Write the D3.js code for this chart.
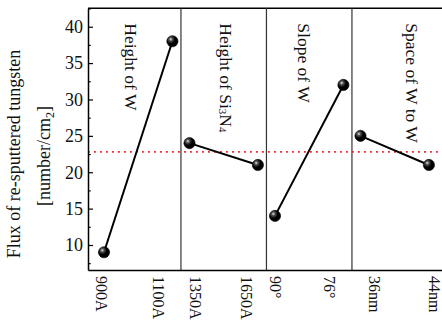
<!DOCTYPE html>
<html>
<head>
<meta charset="utf-8">
<script src="https://cdn.jsdelivr.net/npm/d3@7"></script>
<style>
  html, body { margin: 0; padding: 0; background: #fff; }
  svg { display: block; }
</style>
</head>
<body>
<svg id="chart" width="442" height="320"></svg>
<script>
// Main-effect factors: each has two levels and a mean flux per level
const factors = ["Height of W", "Height of Si3N4", "Slope of W", "Space of W to W"];
const levelLabels = [
  ["900A", "1100A"],
  ["1350A", "1650A"],
  ["90°", "76°"],
  ["36nm", "44nm"]
];
const fluxValues = [
  [9, 38],
  [24, 21],
  [14, 32],
  [25, 21]
];
const overallMean = 22.8;
const yTicks = [10, 15, 20, 25, 30, 35, 40];
const yMinorTicks = [7.5, 12.5, 17.5, 22.5, 27.5, 32.5, 37.5, 42.5];

// ---- layout ----
const FONT = "'Times New Roman', 'Liberation Serif', Tinos, 'DejaVu Serif', serif";
const plot = { left: 88, right: 442, top: 8.3, bottom: 270 };
// each factor occupies 5 index units: levels at 0 and 4, gap of 1 to the next factor
const slot = 5, span = 4;
const labelNudge = [[-3, -14], [5.5, -11], [0, -14], [14, 6]];   // px shifts of level labels
const titleOffset = [1.58, 2.13, 1.7, 3.0];                        // factor title, index units from first level

const svg = d3.select("#chart").attr("font-family", FONT);

const x = d3.scaleLinear().domain([-0.936, 19.766]).range([plot.left, plot.right]);
const y = d3.scaleLinear().domain([6.564, 42.53]).range([plot.bottom, plot.top]);

const pos = (g, j) => g * slot + j * span;

// marker shading
const defs = svg.append("defs");
const grad = defs.append("radialGradient").attr("id", "ball")
  .attr("cx", "35%").attr("cy", "32%").attr("r", "70%");
grad.append("stop").attr("offset", "0%").attr("stop-color", "#e8e8e8");
grad.append("stop").attr("offset", "22%").attr("stop-color", "#555");
grad.append("stop").attr("offset", "55%").attr("stop-color", "#000");
grad.append("stop").attr("offset", "100%").attr("stop-color", "#000");

// top border
svg.append("line")
  .attr("x1", plot.left).attr("x2", plot.right)
  .attr("y1", plot.top).attr("y2", plot.top)
  .attr("stroke", "#000").attr("stroke-width", 1.5);

// factor separators
const seps = d3.range(1, factors.length).map(g => g * slot - (slot - span) / 2);
svg.append("g").selectAll("line").data(seps).join("line")
  .attr("x1", d => x(d)).attr("x2", d => x(d))
  .attr("y1", plot.top).attr("y2", plot.bottom)
  .attr("stroke", "#333").attr("stroke-width", 1.2);

// overall mean reference
svg.append("line")
  .attr("x1", plot.left).attr("x2", plot.right)
  .attr("y1", y(overallMean)).attr("y2", y(overallMean))
  .attr("stroke", "#e8262a").attr("stroke-width", 1.6)
  .attr("stroke-dasharray", "1.8,4.2");

// y axis
const yAxis = svg.append("g").attr("transform", `translate(${plot.left},0)`)
  .call(d3.axisLeft(y).tickValues(yTicks).tickSize(-5).tickPadding(5).tickSizeOuter(0));
yAxis.attr("font-family", FONT);
yAxis.select(".domain").attr("stroke-width", 1.5);
yAxis.selectAll(".tick line").attr("stroke-width", 1.2);
yAxis.selectAll(".tick text").attr("font-size", 18).attr("fill", "#111");

const yMinor = svg.append("g").attr("transform", `translate(${plot.left},0)`)
  .call(d3.axisLeft(y).tickValues(yMinorTicks).tickSize(-2.8).tickFormat(""));
yMinor.select(".domain").remove();
yMinor.selectAll(".tick line").attr("stroke-width", 1.1);

// x axis line
const xAxis = svg.append("g").attr("transform", `translate(0,${plot.bottom})`)
  .call(d3.axisBottom(x).tickValues([]).tickSizeOuter(0));
xAxis.select(".domain").attr("stroke-width", 1.5);

// level labels, rotated to read downward
levelLabels.forEach((labs, g) => {
  labs.forEach((lab, j) => {
    svg.append("text")
      .attr("transform", `translate(${x(pos(g, j)) + labelNudge[g][j]},${plot.bottom + 6}) rotate(90)`)
      .attr("text-anchor", "start")
      .attr("dominant-baseline", "central")
      .attr("font-size", 16)
      .attr("fill", "#111")
      .text(lab);
  });
});

// factor titles
factors.forEach((name, g) => {
  const t = svg.append("text")
    .attr("transform", `translate(${x(pos(g, 0) + titleOffset[g])},${plot.top + 15}) rotate(90)`)
    .attr("text-anchor", "start")
    .attr("dominant-baseline", "central")
    .attr("font-size", 17.5)
    .attr("fill", "#111");
  const m = name.match(/^(.*Si)3N4$/);
  if (m) {
    t.append("tspan").text(m[1]);
    t.append("tspan").attr("baseline-shift", "-30%").attr("font-size", 11).text("3");
    t.append("tspan").text("N");
    t.append("tspan").attr("baseline-shift", "-30%").attr("font-size", 11).text("4");
  } else {
    t.text(name);
  }
});

// level-mean lines and markers
const line = d3.line().x(d => x(d.p)).y(d => y(d.v));
fluxValues.forEach((vals, g) => {
  const pts = vals.map((v, j) => ({ p: pos(g, j), v }));
  svg.append("path").datum(pts)
    .attr("d", line)
    .attr("fill", "none").attr("stroke", "#000").attr("stroke-width", 2);
  svg.append("g").selectAll("circle").data(pts).join("circle")
    .attr("cx", d => x(d.p)).attr("cy", d => y(d.v)).attr("r", 5.6)
    .attr("fill", "url(#ball)").attr("stroke", "#000").attr("stroke-width", 0.6);
});

// y axis title
const yTitleCy = 154;
svg.append("text")
  .attr("transform", `translate(20,${yTitleCy}) rotate(-90)`)
  .attr("text-anchor", "middle")
  .attr("font-size", 18)
  .attr("fill", "#111")
  .text("Flux of re-sputtered tungsten");
const t2 = svg.append("text")
  .attr("transform", `translate(49.5,${yTitleCy + 2}) rotate(-90)`)
  .attr("text-anchor", "middle")
  .attr("font-size", 18)
  .attr("fill", "#111");
t2.append("tspan").text("[number/cm");
t2.append("tspan").attr("baseline-shift", "-30%").attr("font-size", 12).text("2");
t2.append("tspan").text("]");
</script>
</body>
</html>
